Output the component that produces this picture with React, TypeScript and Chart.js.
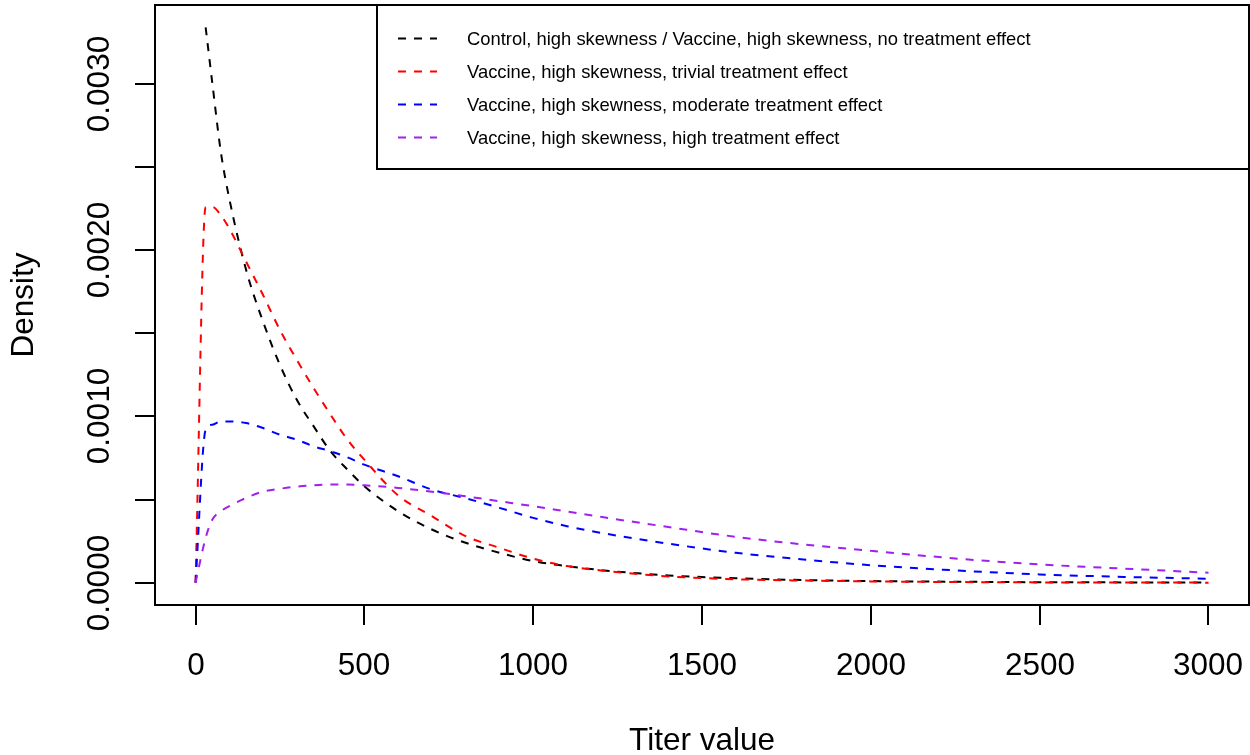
import React, { useEffect, useRef } from 'react';
import { Chart, registerables } from 'chart.js';

Chart.register(...registerables);

// ---- data ----
const titerValues = [0, 30, 50, 75, 100, 150, 200, 250, 300, 350, 400, 450, 500, 600, 700, 800, 900, 1000, 1100, 1200, 1400, 1600, 1800, 2000, 2250, 2500, 2750, 3000];

const controlNoEffect = [null, 0.00334, 0.003, 0.00259, 0.00231, 0.00188, 0.00157, 0.00131, 0.0011, 0.00094, 0.00079, 0.00068, 0.00058, 0.00043, 0.00032, 0.00024, 0.00018, 0.00013, 0.0001, 0.000076, 0.000044, 0.000027, 0.000016, 0.00001, 0.000006, 0.000003, 0.000002, 0.000001];

const vaccineTrivial = [0, 0.00226, 0.00226, 0.00221, 0.00213, 0.00193, 0.00173, 0.00152, 0.00134, 0.00117, 0.00101, 0.00086, 0.00074, 0.000525, 0.0004, 0.00028, 0.00021, 0.000145, 0.0001, 0.000074, 0.000038, 0.000021, 0.000013, 0.000008, 0.000004, 0.000002, 0.000001, 0.0000005];

const vaccineModerate = [0, 0.00092, 0.00095, 0.00097, 0.00097, 0.00096, 0.00093, 0.00089, 0.00086, 0.00082, 0.00079, 0.000754, 0.00071, 0.00064, 0.00056, 0.000508, 0.00045, 0.00039, 0.00034, 0.0003, 0.000235, 0.00018, 0.00014, 0.000105, 0.000074, 0.00005, 0.000035, 0.000024];

const vaccineHigh = [0, 0.00027, 0.00038, 0.00043, 0.00046, 0.00051, 0.000548, 0.000565, 0.000578, 0.000586, 0.00059, 0.00059, 0.000586, 0.00057, 0.000547, 0.00052, 0.00049, 0.00046, 0.000428, 0.000396, 0.000335, 0.000276, 0.00023, 0.000192, 0.000146, 0.00011, 0.000085, 0.00006];

const seriesLabels = [
  'Control, high skewness / Vaccine, high skewness, no treatment effect',
  'Vaccine, high skewness, trivial treatment effect',
  'Vaccine, high skewness, moderate treatment effect',
  'Vaccine, high skewness, high treatment effect',
];
const seriesColors = ['#000000', '#FF0000', '#0000FF', '#A020F0'];

const xTickValues = [0, 500, 1000, 1500, 2000, 2500, 3000];
const xTickLabels = ['0', '500', '1000', '1500', '2000', '2500', '3000'];
const yTickValues = [0, 0.0005, 0.001, 0.0015, 0.002, 0.0025, 0.003];
const yTickLabels = ['0.0000', '', '0.0010', '', '0.0020', '', '0.0030'];

const xTitle = 'Titer value';
const yTitle = 'Density';

const FONT = '"Liberation Sans", Arial, Helvetica, sans-serif';

const rBasePlot = {
  id: 'rBasePlot',
  afterDraw(chart: any) {
    const ctx = chart.ctx as CanvasRenderingContext2D;
    const area = chart.chartArea;
    const xs = chart.scales.x;
    const ys = chart.scales.y;
    ctx.save();
    ctx.strokeStyle = '#000';
    ctx.fillStyle = '#000';
    ctx.lineWidth = 2;
    ctx.setLineDash([]);

    // frame
    ctx.strokeRect(area.left, area.top, area.right - area.left, area.bottom - area.top);

    // x ticks + labels
    ctx.font = `31.5px ${FONT}`;
    ctx.textAlign = 'center';
    ctx.textBaseline = 'alphabetic';
    xTickValues.forEach((v, i) => {
      const px = Math.round(xs.getPixelForValue(v));
      ctx.beginPath();
      ctx.moveTo(px, area.bottom);
      ctx.lineTo(px, area.bottom + 20);
      ctx.stroke();
      ctx.fillText(xTickLabels[i], px, 675);
    });

    // y ticks + labels
    yTickValues.forEach((v, i) => {
      const py = Math.round(ys.getPixelForValue(v));
      ctx.beginPath();
      ctx.moveTo(area.left, py);
      ctx.lineTo(area.left - 20, py);
      ctx.stroke();
      if (yTickLabels[i]) {
        ctx.save();
        ctx.translate(109, py);
        ctx.rotate(-Math.PI / 2);
        ctx.fillText(yTickLabels[i], 0, 0);
        ctx.restore();
      }
    });

    // axis titles
    ctx.fillText(xTitle, (area.left + area.right) / 2, 750);
    ctx.save();
    ctx.translate(33, (area.top + area.bottom) / 2);
    ctx.rotate(-Math.PI / 2);
    ctx.fillText(yTitle, 0, 0);
    ctx.restore();

    // legend
    const lx = 377;
    ctx.strokeRect(lx, area.top, area.right - lx, 169 - area.top);
    const rowY = [38.5, 71.5, 104.5, 137.5];
    ctx.font = `18.4px ${FONT}`;
    ctx.textAlign = 'left';
    ctx.textBaseline = 'middle';
    seriesLabels.forEach((label, i) => {
      ctx.strokeStyle = seriesColors[i];
      ctx.setLineDash([8, 8]);
      ctx.beginPath();
      ctx.moveTo(398, rowY[i]);
      ctx.lineTo(437, rowY[i]);
      ctx.stroke();
      ctx.setLineDash([]);
      ctx.fillStyle = '#000';
      ctx.fillText(label, 467, rowY[i] + 1);
    });
    ctx.restore();
  },
};

export default function App() {
  const canvasRef = useRef<HTMLCanvasElement | null>(null);

  useEffect(() => {
    const canvas = canvasRef.current;
    if (!canvas) return;
    const allSeries = [controlNoEffect, vaccineTrivial, vaccineModerate, vaccineHigh];
    const chart = new Chart(canvas, {
      type: 'line',
      data: {
        datasets: seriesLabels.map((label, i) => ({
          label,
          data: titerValues.map((x, j) => ({ x, y: allSeries[i][j] })),
          borderColor: seriesColors[i],
          backgroundColor: seriesColors[i],
          borderWidth: 2,
          borderDash: [8, 8],
          borderCapStyle: 'butt',
          pointRadius: 0,
          fill: false,
          spanGaps: false,
          cubicInterpolationMode: 'monotone',
          order: 3 - i,
        })),
      },
      options: {
        responsive: false,
        maintainAspectRatio: false,
        animation: false,
        events: [],
        layout: { padding: { left: 155, right: 1, top: 5, bottom: 150 } },
        plugins: { legend: { display: false }, tooltip: { enabled: false }, title: { display: false } },
        scales: {
          x: { type: 'linear', min: -120, max: 3120, display: false },
          y: { type: 'linear', min: -0.000134, max: 0.003474, display: false },
        },
      },
      plugins: [rBasePlot],
    } as any);
    return () => chart.destroy();
  }, []);

  return (
    <div style={{ position: 'absolute', left: 0, top: 0, width: 1250, height: 755, background: '#fff' }}>
      <canvas ref={canvasRef} width={1250} height={755} style={{ display: 'block', width: 1250, height: 755 }} />
    </div>
  );
}
